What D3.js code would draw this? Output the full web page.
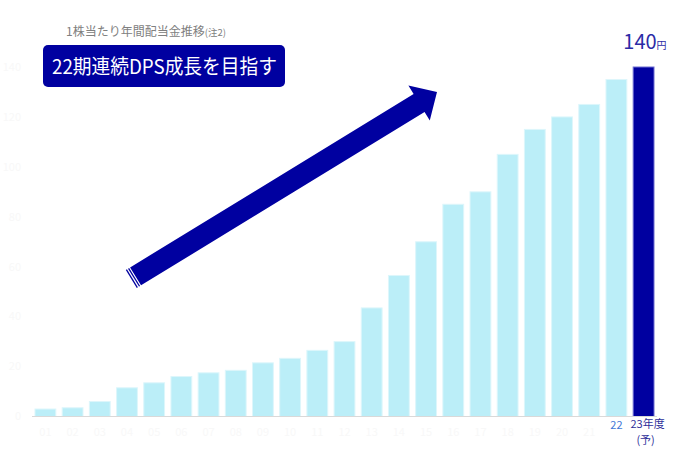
<!DOCTYPE html>
<html>
<head>
<meta charset="utf-8">
<script src="https://cdn.jsdelivr.net/npm/d3@7"></script>
<style>
  html, body { margin: 0; padding: 0; background: #fff; }
  svg { display: block; font-family: "Noto Sans CJK JP", "Noto Sans", sans-serif; }
</style>
</head>
<body>
<svg id="chart"></svg>
<script>
// fiscal years 01..23 (23 is forecast)
const years = ["01","02","03","04","05","06","07","08","09","10","11","12",
               "13","14","15","16","17","18","19","20","21","22","23"];
// annual dividend per share (yen)
const dps = [3, 3.5, 6, 11.5, 13.5, 16, 17.5, 18.5, 21.5, 23.3, 26.5, 30,
             43.5, 56.5, 70, 85, 90, 105, 115, 120, 125, 135, 140];
const yTicks = [0, 20, 40, 60, 80, 100, 120, 140];

const W = 688, H = 453;
const svg = d3.select("#chart").attr("width", W).attr("height", H);

const x = d3.scaleBand()
    .domain(years)
    .range([32, 657])
    .paddingInner(0.234)
    .paddingOuter(0.11);

const y = d3.scaleLinear()
    .domain([0, 140])
    .range([416.5, 67]);

// faint y axis labels (almost invisible in the original)
svg.append("g")
    .selectAll("text")
    .data(yTicks)
    .join("text")
    .attr("x", 21)
    .attr("y", d => y(d))
    .attr("dy", "0.35em")
    .attr("text-anchor", "end")
    .style("font-size", "11px")
    .style("fill", "#f8f8f8")
    .text(d => d);

// bars
svg.append("g")
    .selectAll("rect")
    .data(dps)
    .join("rect")
    .attr("x", (d, i) => x(years[i]))
    .attr("y", d => y(d))
    .attr("width", x.bandwidth())
    .attr("height", d => y(0) - y(d))
    .attr("fill", (d, i) => i === dps.length - 1 ? "#0000a0" : "#bbeef8")
    .attr("stroke", (d, i) => i === dps.length - 1 ? "#6f6fd2" : "#ddf6fb")
    .attr("stroke-width", 1);

// baseline
svg.append("line")
    .attr("x1", 32).attr("x2", 657)
    .attr("y1", y(0)).attr("y2", y(0))
    .attr("stroke", "#d9d9d9")
    .attr("stroke-width", 1);

// x labels: faint for older years, visible for 22 and 23
svg.append("g")
    .selectAll("text")
    .data(years.slice(0, 21))
    .join("text")
    .attr("x", d => x(d) + x.bandwidth() / 2)
    .attr("y", 432)
    .attr("dy", "0.35em")
    .attr("text-anchor", "middle")
    .style("font-size", "11px")
    .style("fill", "#f8f8f8")
    .text(d => d);

svg.append("text")
    .attr("x", x("22") + x.bandwidth() / 2)
    .attr("y", 425)
    .attr("dy", "0.35em")
    .attr("text-anchor", "middle")
    .style("font-size", "11px")
    .style("fill", "#3f78d8")
    .text("22");

const last = x("23") + x.bandwidth() / 2;
svg.append("text")
    .attr("x", last + 4)
    .attr("y", 424)
    .attr("dy", "0.35em")
    .attr("text-anchor", "middle")
    .style("font-size", "11px")
    .style("fill", "#2f2f9a")
    .text("23年度");
svg.append("text")
    .attr("x", last + 2)
    .attr("y", 440)
    .attr("dy", "0.35em")
    .attr("text-anchor", "middle")
    .style("font-size", "11px")
    .style("fill", "#2f2f9a")
    .text("(予)");

// value label of the last bar
const val = svg.append("text")
    .attr("x", last + 23)
    .attr("y", y(dps[dps.length - 1]) - 18)
    .attr("text-anchor", "end")
    .style("fill", "#2b2ba6");
val.append("tspan").style("font-size", "20px").text(dps[dps.length - 1]);
val.append("tspan").style("font-size", "10px").text("円");

// chart title
const title = svg.append("text")
    .attr("x", 66)
    .attr("y", 36)
    .style("fill", "#808080");
title.append("tspan").style("font-size", "12px").text("1株当たり年間配当金推移");
title.append("tspan").style("font-size", "9.5px").text("(注2)");

// message box
svg.append("rect")
    .attr("x", 43).attr("y", 45)
    .attr("width", 242).attr("height", 42)
    .attr("rx", 5)
    .attr("fill", "#0000a0");
svg.append("text")
    .attr("x", 52).attr("y", 67)
    .attr("dy", "0.35em")
    .attr("textLength", 225)
    .attr("lengthAdjust", "spacingAndGlyphs")
    .style("font-size", "20px")
    .style("fill", "#fff")
    .text("22期連続DPS成長を目指す");

// big growth arrow with striped tail
const tail = [131.3, 279], tip = [437, 92];
const len = Math.hypot(tip[0] - tail[0], tip[1] - tail[1]);
const ang = Math.atan2(tip[1] - tail[1], tip[0] - tail[0]) * 180 / Math.PI;
const sw = 10.5, hw = 20.5, hl = 21;

const arrow = svg.append("g")
    .attr("transform", `translate(${tail[0]},${tail[1]}) rotate(${ang})`);
arrow.append("path")
    .attr("d", `M5,${-sw} L${len - hl},${-sw} L${len - hl},${-hw} L${len},0 L${len - hl},${hw} L${len - hl},${sw} L5,${sw} Z`)
    .attr("fill", "#0000a0");
[0, 2.6].forEach(o => {
    arrow.append("rect")
        .attr("x", o).attr("y", -sw)
        .attr("width", 1.3).attr("height", sw * 2)
        .attr("fill", "#0000a0");
});
</script>
</body>
</html>
